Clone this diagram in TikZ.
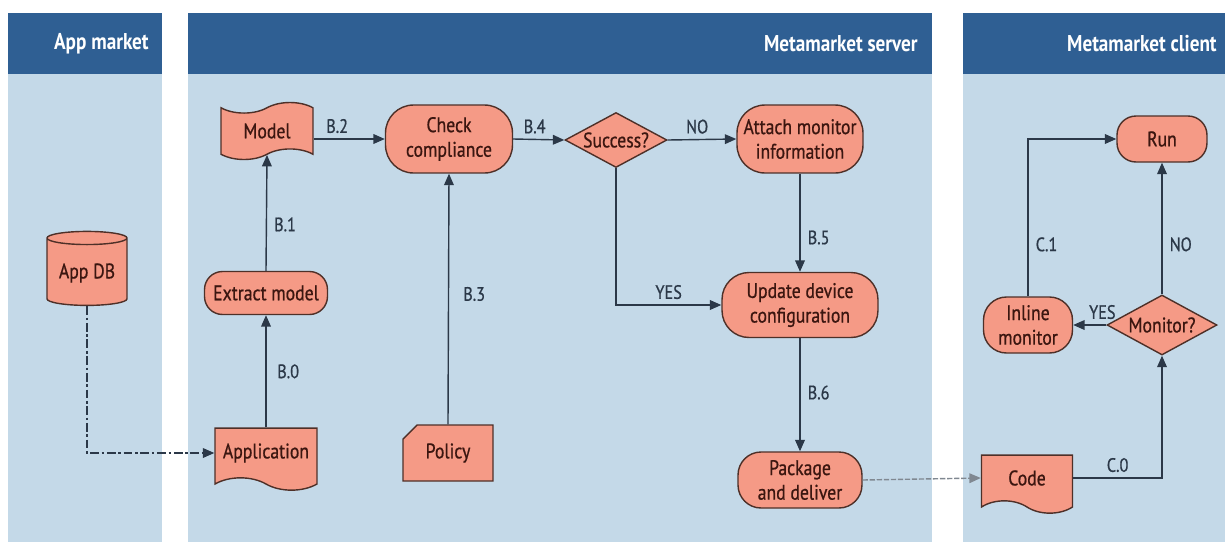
\documentclass[tikz,border=0pt]{standalone}
\usepackage{fontspec}
\setmainfont{PT Sans}[FakeStretch=0.84]
\newfontfamily\nodefont{PT Sans}[FakeStretch=0.84, FakeBold=0.7]
\usetikzlibrary{shapes.geometric,shapes.misc,shapes.symbols,arrows.meta}
\definecolor{hdr}{HTML}{2F5F93}
\definecolor{lanebg}{HTML}{C4D9E8}
\definecolor{nfill}{HTML}{F59A86}
\definecolor{nline}{HTML}{4E3028}
\definecolor{ntext}{HTML}{3B1610}
\definecolor{edgec}{HTML}{2B3848}
\tikzset{
  base/.style={draw=nline, fill=nfill, line width=0.8pt, text=ntext, align=center,
    font=\nodefont\fontsize{12}{14}\selectfont, inner sep=1pt},
  term/.style n args={3}{base, rectangle, minimum width=#1, minimum height=#2, rounded corners=#3},
  decide/.style 2 args={base, diamond, aspect=2, minimum width=#1, minimum height=#2, inner sep=0pt},
  doc/.style 2 args={base, tape, tape bend top=none, tape bend bottom=out and in, tape bend height=7pt, minimum width=#1, minimum height=#2},
  flag/.style 2 args={base, tape, tape bend height=6pt, minimum width=#1, minimum height=#2},
  card/.style 2 args={base, chamfered rectangle, chamfered rectangle corners=north west, chamfered rectangle xsep=4pt, chamfered rectangle ysep=4pt, minimum width=#1, minimum height=#2},
  db/.style 2 args={base, cylinder, shape border rotate=90, aspect=0.22, minimum width=#1, minimum height=#2},
  conn/.style={draw=edgec, line width=0.8pt, -{Triangle[length=6.5pt,width=5.5pt]}},
  lbl/.style={text=edgec, font=\nodefont\fontsize{11}{13}\selectfont, inner sep=2pt},
  hdrtxt/.style={text=white, font=\bfseries\fontsize{13}{15}\selectfont, anchor=east, inner sep=0pt},
}
\begin{document}
\begin{tikzpicture}[x=0.02cm,y=-0.02cm]
\useasboundingbox (0,0) rectangle (1225,542);
\fill[white] (0,0) rectangle (1225,542);
% lanes
\fill[lanebg] (8,74) rectangle (162,542);
\fill[hdr] (8,13) rectangle (162,74);
\fill[lanebg] (188,74) rectangle (932,542);
\fill[hdr] (188,13) rectangle (932,74);
\fill[lanebg] (963,74) rectangle (1225,542);
\fill[hdr] (963,13) rectangle (1225,74);
\node[hdrtxt] (h1) at (149,44) {App market};
\node[hdrtxt] (h2) at (918,44) {Metamarket server};
\node[hdrtxt] (h3) at (1217,44) {Metamarket client};

% nodes
\node[db={1.6cm}{1.48cm}] (appdb) at (87,273) {App DB};
\node[flag={1.84cm}{1.14cm}] (model) at (267,131) {Model};
\node[term={2.46cm}{0.86cm}{0.36cm}] (extract) at (266,293) {Extract model};
\node[doc={2.04cm}{1.24cm}] (app) at (266,453) {Application};
\node[term={2.54cm}{1.36cm}{0.56cm}] (check) at (449,139) {Check\\compliance};
\node[card={1.8cm}{1.12cm}] (policy) at (448,453) {Policy};
\node[decide={2.04cm}{1.1cm}] (success) at (616,140) {Success?};
\node[term={2.52cm}{1.36cm}{0.56cm}] (attach) at (800,139) {Attach monitor\\information};
\node[term={3.12cm}{1.3cm}{0.54cm}] (update) at (800,305) {Update device\\configuration};
\node[term={2.48cm}{1.12cm}{0.46cm}] (package) at (800,480) {Package\\and deliver};
\node[doc={1.82cm}{1.16cm}] (code) at (1027,478) {Code};
\node[term={1.8cm}{0.92cm}{0.38cm}] (run) at (1162,139) {Run};
\node[term={1.78cm}{1.12cm}{0.46cm}] (inline) at (1028,325) {Inline\\monitor};
\node[decide={2.2cm}{1.2cm}] (monitor) at (1162,325) {Monitor?};

% connectors
\draw[conn, dash pattern=on 5pt off 1.5pt on 1.5pt off 1.5pt] (appdb.south) |- (app.west);
\draw[conn] (app.north) -- node[lbl, right=4pt, pos=0.5] (l0) {B.0} (extract.south);
\draw[conn] (extract.north) -- node[lbl, right=2pt, pos=0.4] (l1) {B.1} (model.south);
\draw[conn] (model.east |- check.west) -- node[lbl, above=1pt, pos=0.33] (l2) {B.2} (check.west);
\draw[conn] (policy.north) -- node[lbl, right=6pt, pos=0.52] (l3) {B.3} (check.south);
\draw[conn] (check.east) -- node[lbl, above=1pt, pos=0.42] (l4) {B.4} (success.west);
\draw[conn] (success.east) -- node[lbl, above=1pt, pos=0.43] (lno) {NO} (attach.west);
\draw[conn] (success.south) |- node[lbl, above=1pt, pos=0.75] (lyes) {YES} (update.west);
\draw[conn] (attach.south) -- node[lbl, right=2pt, pos=0.65] (l5) {B.5} (update.north);
\draw[conn] (update.south) -- node[lbl, right=2pt, pos=0.48] (l6) {B.6} (package.north);
\draw[conn, draw=edgec!60, dash pattern=on 3pt off 1pt] (package.east) -- (code.west);
\draw[conn] (code.east) -| node[lbl, above=1pt, pos=0.25] (lc0) {C.0} (monitor.south);
\draw[conn] (monitor.west) -- node[lbl, above=1pt, pos=0.12] (lyes2) {YES} (inline.east);
\draw[conn] (monitor.north) -- node[lbl, right=2pt, pos=0.38] (lno2) {NO} (run.south);
\draw[conn] (inline.north) |- node[lbl, right=2pt, pos=0.165] (lc1) {C.1} (run.west);
\end{tikzpicture}
\end{document}
